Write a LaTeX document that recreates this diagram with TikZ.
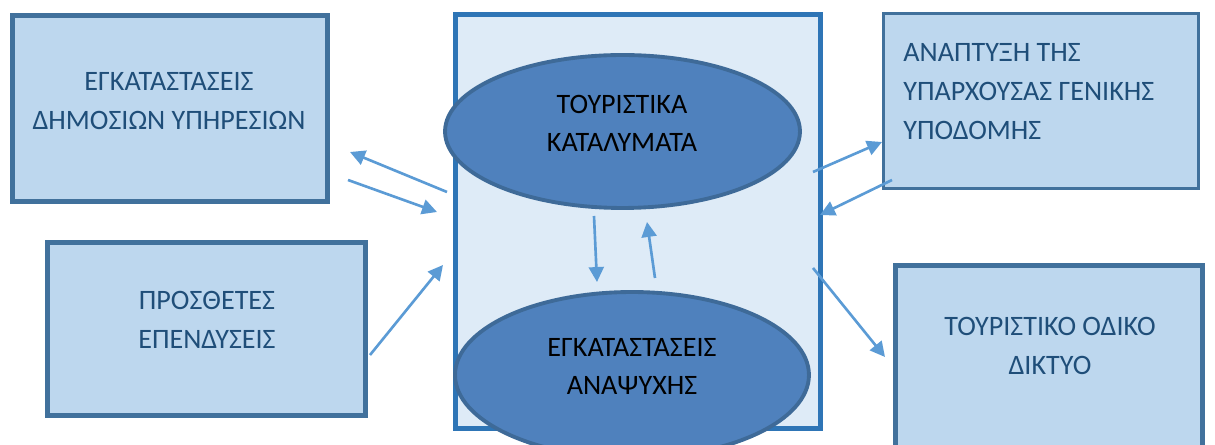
\documentclass[tikz,border=0pt]{standalone}
\usepackage{fontspec}
\setmainfont{Carlito}
\usetikzlibrary{arrows.meta, positioning, shapes.geometric}
\definecolor{boxfill}{RGB}{189,215,238}
\definecolor{boxline}{RGB}{65,113,156}
\definecolor{panelfill}{RGB}{222,235,247}
\definecolor{panelline}{RGB}{46,117,182}
\definecolor{ovalfill}{RGB}{79,129,189}
\definecolor{ovalline}{RGB}{62,106,152}
\definecolor{arrowblue}{RGB}{91,155,213}
\definecolor{textblue}{RGB}{31,78,121}

\begin{document}
\begin{tikzpicture}[x=0.02cm, y=-0.02cm, font=\fontsize{16}{22}\selectfont,
        box/.style={draw=boxline, line width=2.8pt, fill=boxfill, inner sep=0pt},
        oval/.style={ellipse, draw=ovalline, line width=2.2pt, fill=ovalfill, inner sep=0pt},
        boxtext/.style={align=center, text=textblue, inner sep=0pt},
        ovaltext/.style={align=center, text=black, inner sep=0pt},
        flow/.style={draw=arrowblue, line width=1.5pt, -{Triangle[length=8.5pt, width=8.5pt]}}]
    \useasboundingbox (0,0) rectangle (1215,445);

    % middle panel with the two ovals
    \node[draw=panelline, line width=2.8pt, fill=panelfill, minimum width=7.3cm, minimum height=8.28cm,
          inner sep=0pt] (panel) at (638,221.5) {};
    \node[oval, minimum width=7.1cm, minimum height=3.06cm] (lodging) at (622.5,131.5) {};
    \node[oval, minimum width=7.08cm, minimum height=3.32cm] (leisure) at (632,375) {};
    \node[ovaltext] (lodgingtxt) at (622,123.5) {ΤΟΥΡΙΣΤΙΚΑ\\ΚΑΤΑΛΥΜΑΤΑ};
    \node[ovaltext] (leisuretxt) at (632,366.5) {ΕΓΚΑΤΑΣΤΑΣΕΙΣ\\ΑΝΑΨΥΧΗΣ};

    % outer boxes
    \node[box, minimum width=6.3cm, minimum height=3.72cm] (public) at (170,108.5) {};
    \node[box, minimum width=6.36cm, minimum height=3.46cm] (invest) at (206.5,329) {};
    \node[box, line width=1.6pt, minimum width=6.3cm, minimum height=3.5cm] (infra) at (1041,101) {};
    \node[box, minimum width=6.14cm, minimum height=4.1cm] (roads) at (1049,368) {};

    \node[boxtext] (publictxt) at (169,101) {ΕΓΚΑΤΑΣΤΑΣΕΙΣ\\ΔΗΜΟΣΙΩΝ ΥΠΗΡΕΣΙΩΝ};
    \node[boxtext] (investtxt) at (207,320) {ΠΡΟΣΘΕΤΕΣ\\ΕΠΕΝΔΥΣΕΙΣ};
    \node[boxtext, align=left, anchor=west] (infratxt) at (903,91.5) {ΑΝΑΠΤΥΞΗ ΤΗΣ\\ΥΠΑΡΧΟΥΣΑΣ ΓΕΝΙΚΗΣ\\ΥΠΟΔΟΜΗΣ};
    \node[boxtext] (roadstxt) at (1050,346) {ΤΟΥΡΙΣΤΙΚΟ ΟΔΙΚΟ\\ΔΙΚΤΥΟ};

    % arrow ends
    \coordinate (p1) at (447,192);  \coordinate (q1) at (350,152);
    \coordinate (p2) at (348,180);  \coordinate (q2) at (437,212);
    \coordinate (p3) at (370,355);  \coordinate (q3) at (443,265);
    \coordinate (p4) at (813,172);  \coordinate (q4) at (882,142);
    \coordinate (p5) at (892,180);  \coordinate (q5) at (820,215);
    \coordinate (p6) at (594,216);  \coordinate (q6) at (597,282);
    \coordinate (p7) at (655,278);  \coordinate (q7) at (647,222);
    \coordinate (p8) at (813,268);  \coordinate (q8) at (885,357);

    \foreach \i in {1,...,8}
        \draw[flow] (p\i) -- (q\i);
\end{tikzpicture}
\end{document}
